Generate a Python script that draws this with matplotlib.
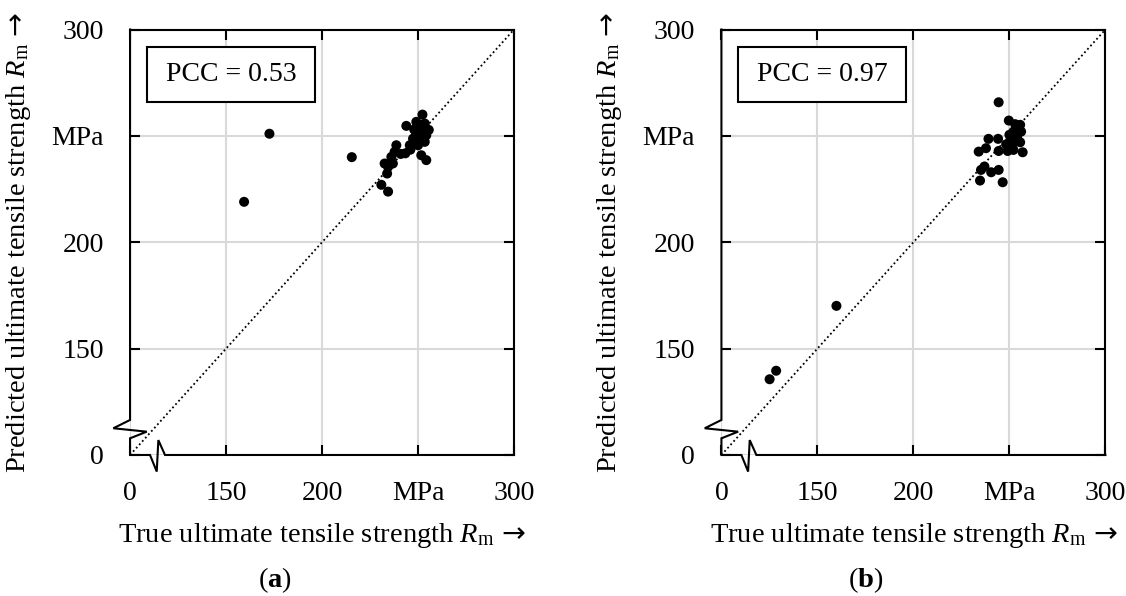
import matplotlib
matplotlib.use("Agg")
import matplotlib.pyplot as plt
from matplotlib.patches import Rectangle

plt.rcParams['font.family'] = ['Liberation Serif', 'DejaVu Serif']
plt.rcParams['mathtext.fontset'] = 'custom'
plt.rcParams['mathtext.rm'] = 'Liberation Serif'
plt.rcParams['mathtext.it'] = 'Liberation Serif:italic'
plt.rcParams['mathtext.bf'] = 'Liberation Serif:bold'
plt.rcParams['mathtext.sf'] = 'DejaVu Sans'

# axis runs 100..300 MPa, the lowest tick is shown as 0 behind a break mark
tick_values = [100, 150, 200, 250, 300]
tick_labels = ['0', '150', '200', 'MPa', '300']

# (a) first model
true_a = [159.4, 172.6, 215.5, 230.9, 234.4, 233.9, 232.6, 234.4, 236.9, 236.1,
          237.8, 238.7, 241.0, 243.4, 245.7, 247.4, 249.1, 250.0, 251.7, 254.3,
          253.5, 254.3, 255.6, 253.5, 249.1, 252.3, 243.9, 248.0, 251.0, 252.0,
          250.5, 246.0]
pred_a = [219.0, 251.0, 240.0, 227.0, 223.8, 232.3, 237.0, 235.4, 237.0, 240.1,
          242.5, 245.6, 241.5, 241.8, 245.6, 248.7, 251.1, 245.6, 240.9, 238.6,
          247.2, 250.3, 252.8, 255.8, 256.6, 260.0, 254.7, 253.0, 249.0, 252.0,
          254.0, 243.5]
pcc_a = 0.53

# (b) second model
true_b = [125.1, 128.5, 159.9, 234.7, 246.5, 240.5, 235.2, 237.0, 244.4, 234.0,
          237.8, 244.4, 249.1, 252.1, 256.9, 239.1, 244.1, 248.3, 252.6, 255.6,
          250.0, 252.1, 256.1, 255.6, 253.0, 249.7, 244.4, 250.9, 254.0]
pred_b = [135.6, 139.6, 170.1, 229.0, 228.2, 232.9, 234.0, 235.6, 234.0, 242.6,
          244.2, 242.9, 242.9, 243.4, 242.3, 248.6, 248.6, 246.0, 247.3, 247.0,
          250.5, 252.0, 252.0, 255.2, 255.5, 257.2, 265.8, 247.3, 249.5]
pcc_b = 0.97

xlabel = r'True ultimate tensile strength $R_\mathrm{m}\,\mathsf{\rightarrow}$'
ylabel = r'Predicted ultimate tensile strength $R_\mathrm{m}\,\mathsf{\rightarrow}$'

fig = plt.figure(figsize=(11.26, 5.96), dpi=100)
ax_a = fig.add_axes([0.1155, 0.2366, 0.3410, 0.7139])
ax_b = fig.add_axes([0.6407, 0.2366, 0.3410, 0.7139])


def draw_panel(ax, x, y, pcc):
    ax.set_xlim(100, 300)
    ax.set_ylim(100, 300)
    ax.set_xticks(tick_values)
    ax.set_xticklabels(tick_labels)
    ax.set_yticks(tick_values)
    ax.set_yticklabels(tick_labels)
    ax.grid(True, color='#d9d9d9', lw=1.5, zorder=0)
    ax.set_axisbelow(True)
    ax.tick_params(direction='in', length=7, width=1.5, top=True, right=True,
                   labelsize=20, color='black')
    ax.tick_params(axis='x', pad=19)
    ax.tick_params(axis='y', pad=19)

    ax.plot([100, 300], [100, 300], color='black', lw=1.3,
            linestyle=(0, (1, 1.5)), zorder=2)
    ax.scatter(x, y, s=52, color='black', edgecolors='none', zorder=3)

    for side in ['top', 'right']:
        ax.spines[side].set_linewidth(1.5)
    ax.spines['left'].set_visible(False)
    ax.spines['bottom'].set_visible(False)
    # left/bottom spines with the zig-zag break near the origin
    bx = [0, 0, -0.0435, 0.0435, 0, 0, 0.052, 0.0695, 0.0737, 0.091, 1]
    by = [1, 0.0823, 0.0628, 0.0548, 0.0392, 0, 0, -0.039, 0.035, 0, 0]
    ax.plot(bx, by, color='black', lw=1.5, transform=ax.transAxes,
            clip_on=False, solid_joinstyle='miter', zorder=5)

    ax.add_patch(Rectangle((0.043, 0.830), 0.439, 0.128, transform=ax.transAxes,
                           facecolor='white', edgecolor='black', lw=1.5, zorder=4))
    ax.text(0.2625, 0.894, f'PCC = {pcc:.2f}', transform=ax.transAxes,
            ha='center', va='center', fontsize=20, zorder=5)

    ax.set_xlabel(xlabel, fontsize=20.5)
    ax.set_ylabel(ylabel, fontsize=20.5)
    ax.xaxis.set_label_coords(0.5, -0.155)
    ax.yaxis.set_label_coords(-0.253, 0.5)


draw_panel(ax_a, true_a, pred_a, pcc_a)
draw_panel(ax_b, true_b, pred_b, pcc_b)

fig.text(0.2442, 0.027, r'($\mathbf{a}$)', ha='center', va='center', fontsize=20.5)
fig.text(0.7690, 0.027, r'($\mathbf{b}$)', ha='center', va='center', fontsize=20.5)

fig.savefig('out.png', dpi=100)
